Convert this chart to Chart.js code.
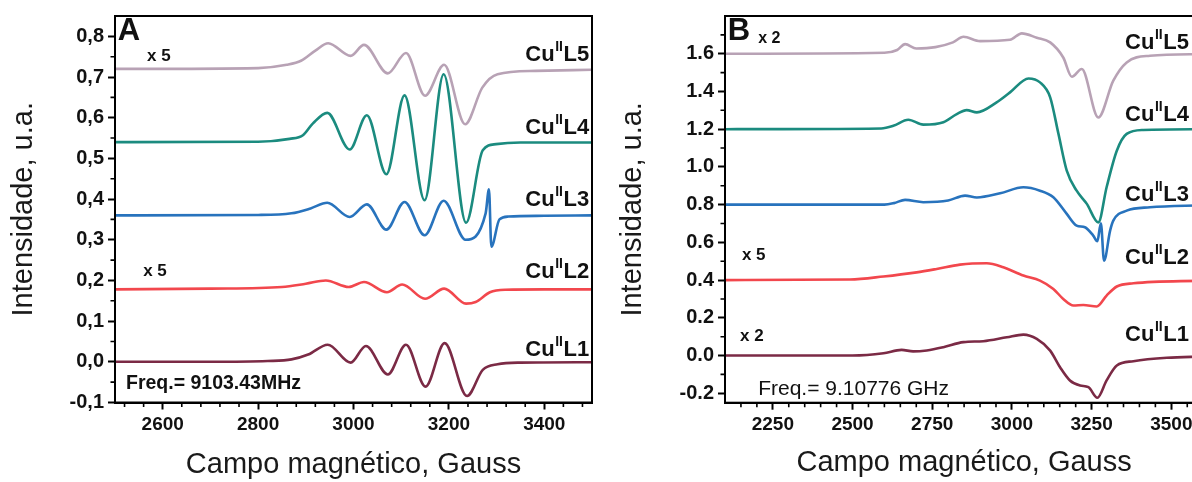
<!DOCTYPE html>
<html>
<head>
<meta charset="utf-8">
<script src="https://cdn.jsdelivr.net/npm/chart.js@4.4.1/dist/chart.umd.min.js"></script>
<style>
  html, body { margin: 0; padding: 0; background: #fff; }
  body { width: 1192px; height: 482px; overflow: hidden; position: relative; }
  canvas { position: absolute; top: 0; }
  #chartA { left: 0; }
  #chartB { left: 600px; }
</style>
</head>
<body>
<canvas id="chartA" width="600" height="482"></canvas>
<canvas id="chartB" width="620" height="482"></canvas>
<script>
// ---- Panel A (Freq. 9103.43 MHz) ----
const fieldA_L5 = [2500, 2800, 2860, 2890, 2920, 2947, 2994, 3022, 3072, 3110, 3150, 3190, 3234, 3270, 3302, 3382, 3500];
const valA_L5   = [0.720, 0.722, 0.730, 0.740, 0.765, 0.783, 0.752, 0.779, 0.709, 0.759, 0.654, 0.730, 0.584, 0.674, 0.707, 0.715, 0.718];

const fieldA_L4 = [2500, 2800, 2866, 2894, 2915, 2945, 2992, 3028, 3069, 3107, 3149, 3189, 3236, 3271, 3299, 3350, 3500];
const valA_L4   = [0.540, 0.541, 0.548, 0.557, 0.586, 0.612, 0.522, 0.606, 0.461, 0.655, 0.397, 0.707, 0.342, 0.520, 0.535, 0.539, 0.539];

const fieldA_L3 = [2500, 2800, 2870, 2910, 2945, 2992, 3028, 3069, 3107, 3149, 3189, 3235, 3277, 3284, 3289, 3306, 3325, 3400, 3500];
const valA_L3   = [0.360, 0.361, 0.365, 0.377, 0.391, 0.356, 0.387, 0.325, 0.393, 0.311, 0.396, 0.300, 0.365, 0.424, 0.283, 0.350, 0.357, 0.359, 0.360];

const fieldA_L2 = [2500, 2700, 2850, 2900, 2942, 2990, 3022, 3070, 3102, 3150, 3190, 3236, 3256, 3286, 3318, 3400, 3500];
const valA_L2   = [0.178, 0.180, 0.184, 0.192, 0.200, 0.184, 0.196, 0.171, 0.190, 0.155, 0.180, 0.143, 0.147, 0.171, 0.177, 0.178, 0.178];

const fieldA_L1 = [2500, 2700, 2820, 2870, 2905, 2946, 2994, 3026, 3072, 3110, 3151, 3191, 3238, 3271, 3302, 3350, 3500];
const valA_L1   = [0.000, 0.000, 0.002, 0.006, 0.018, 0.042, -0.002, 0.039, -0.031, 0.042, -0.061, 0.046, -0.084, -0.020, -0.006, -0.002, -0.001];

const xTicksA = [2600, 2800, 3000, 3200, 3400];
const yTicksA = [-0.1, 0, 0.1, 0.2, 0.3, 0.4, 0.5, 0.6, 0.7, 0.8];

// ---- Panel B (Freq. 9.10776 GHz) ----
const fieldB_L5 = [2100, 2600, 2640, 2665, 2700, 2760, 2815, 2848, 2900, 2994, 3031, 3078, 3120, 3161, 3188, 3219, 3271, 3318, 3360, 3433, 3600];
const valB_L5   = [1.600, 1.605, 1.620, 1.651, 1.628, 1.635, 1.660, 1.690, 1.667, 1.674, 1.708, 1.685, 1.660, 1.580, 1.478, 1.519, 1.262, 1.457, 1.554, 1.589, 1.598];

const fieldB_L4 = [2100, 2590, 2628, 2675, 2722, 2785, 2827, 2858, 2890, 2952, 2994, 3052, 3088, 3120, 3146, 3172, 3203, 3235, 3271, 3297, 3329, 3360, 3412, 3600];
const valB_L4   = [1.200, 1.204, 1.218, 1.250, 1.224, 1.237, 1.280, 1.301, 1.289, 1.342, 1.395, 1.469, 1.448, 1.369, 1.175, 0.980, 0.874, 0.804, 0.706, 0.892, 1.086, 1.175, 1.196, 1.200];

const fieldB_L3 = [2100, 2600, 2630, 2665, 2722, 2800, 2853, 2890, 2963, 3036, 3088, 3130, 3172, 3203, 3229, 3255, 3268, 3279, 3289, 3308, 3318, 3360, 3433, 3600];
const valB_L3   = [0.800, 0.800, 0.808, 0.825, 0.813, 0.822, 0.848, 0.838, 0.860, 0.892, 0.874, 0.839, 0.751, 0.689, 0.680, 0.636, 0.606, 0.701, 0.503, 0.662, 0.715, 0.768, 0.786, 0.797];

const fieldB_L2 = [2100, 2492, 2597, 2701, 2764, 2837, 2921, 2973, 3036, 3088, 3130, 3161, 3193, 3224, 3266, 3297, 3329, 3381, 3600];
const valB_L2   = [0.400, 0.403, 0.419, 0.441, 0.459, 0.482, 0.489, 0.468, 0.424, 0.397, 0.353, 0.300, 0.265, 0.268, 0.260, 0.318, 0.366, 0.383, 0.397];

const fieldB_L1 = [2100, 2500, 2597, 2654, 2690, 2733, 2785, 2848, 2910, 2984, 3036, 3078, 3120, 3151, 3182, 3214, 3240, 3268, 3297, 3329, 3381, 3486, 3600];
const valB_L1   = [0.000, 0.000, 0.012, 0.030, 0.022, 0.027, 0.044, 0.071, 0.076, 0.097, 0.111, 0.088, 0.026, -0.062, -0.132, -0.159, -0.168, -0.224, -0.132, -0.053, -0.030, -0.012, -0.005];

const xTicksB = [2250, 2500, 2750, 3000, 3250, 3500];
const yTicksB = [-0.2, 0, 0.2, 0.4, 0.6, 0.8, 1.0, 1.2, 1.4, 1.6];

const FONT = "'Liberation Sans', Arial, sans-serif";
const colors = { L5: '#b8a2b5', L4: '#1b8b7f', L3: '#2873bd', L2: '#f2474d', L1: '#7b2a45' };

function pts(xs, ys) { return xs.map((x, i) => ({ x: x, y: ys[i] })); }
function steps(a, b, s) { const out = []; for (let v = a; v <= b + 1e-9; v += s) out.push(+v.toFixed(4)); return out; }

function ds(xs, ys, color) {
  return {
    data: pts(xs, ys), borderColor: color, borderWidth: 2.6,
    pointRadius: 0, cubicInterpolationMode: 'monotone', fill: false
  };
}

// frame, minor ticks and the text notes
const deco = {
  id: 'deco',
  afterDraw(chart, args, o) {
    const { ctx, chartArea: a, scales } = chart;
    ctx.save();
    ctx.strokeStyle = '#000';
    ctx.lineWidth = 2;
    ctx.strokeRect(a.left, a.top, a.right - a.left, a.bottom - a.top);
    ctx.lineWidth = 1.6;
    ctx.beginPath();
    o.xMinor.forEach(v => {
      const p = scales.x.getPixelForValue(v);
      ctx.moveTo(p, a.bottom); ctx.lineTo(p, a.bottom + 4.5);
    });
    o.yMinor.forEach(v => {
      const p = scales.y.getPixelForValue(v);
      ctx.moveTo(a.left, p); ctx.lineTo(a.left - 4.5, p);
    });
    ctx.stroke();

    ctx.fillStyle = '#111';
    o.notes.forEach(n => {
      const x = scales.x.getPixelForValue(n.x), y = scales.y.getPixelForValue(n.y);
      if (n.cu) { drawCu(ctx, x, y, n.cu, n.align); return; }
      ctx.font = n.font;
      ctx.textAlign = 'left';
      ctx.textBaseline = 'middle';
      ctx.fillText(n.text, x, y);
    });
    ctx.restore();
  }
};

function drawCu(ctx, x, y, n, align) {
  const big = 'bold 22px ' + FONT, small = 'bold 14px ' + FONT;
  ctx.font = big;
  const w1 = ctx.measureText('Cu').width, w3 = ctx.measureText('L' + n).width;
  ctx.font = small;
  const w2 = ctx.measureText('II').width + 1;
  const left = align === 'right' ? x - (w1 + w2 + w3) : x;
  ctx.textAlign = 'left';
  ctx.textBaseline = 'alphabetic';
  ctx.font = big; ctx.fillText('Cu', left, y);
  ctx.font = small; ctx.fillText('II', left + w1 + 0.5, y - 10);
  ctx.font = big; ctx.fillText('L' + n, left + w1 + w2, y);
}

function makeChart(id, cfg) {
  return new Chart(document.getElementById(id), {
    type: 'line',
    data: { datasets: cfg.datasets },
    plugins: [deco],
    options: {
      responsive: false, animation: false, devicePixelRatio: 1,
      layout: { padding: cfg.padding },
      plugins: { legend: { display: false }, tooltip: { enabled: false }, deco: cfg.deco },
      scales: {
        x: {
          type: 'linear', min: cfg.xMin, max: cfg.xMax,
          afterFit: s => { s.height = cfg.xAxisHeight; },
          afterBuildTicks: s => { s.ticks = cfg.xTicks.map(v => ({ value: v })); },
          grid: { drawOnChartArea: false, drawTicks: true, tickLength: 7, tickWidth: 2, tickColor: '#000' },
          border: { display: true, color: '#000', width: 2 },
          ticks: { color: '#111', padding: 4, maxRotation: 0, autoSkip: false,
                   font: { family: FONT, size: 19, weight: 'bold' }, callback: v => String(v) },
          title: { display: true, text: 'Campo magnético, Gauss', color: '#1a1a1a',
                   font: { family: FONT, size: 29 }, padding: { top: 0, bottom: cfg.xTitlePad } }
        },
        y: {
          type: 'linear', min: cfg.yMin, max: cfg.yMax,
          afterFit: s => { s.width = cfg.yAxisWidth; },
          afterBuildTicks: s => { s.ticks = cfg.yTicks.map(v => ({ value: v })); },
          grid: { drawOnChartArea: false, drawTicks: true, tickLength: 7, tickWidth: 2, tickColor: '#000' },
          border: { display: true, color: '#000', width: 2 },
          ticks: { color: '#111', padding: 4, autoSkip: false,
                   font: { family: FONT, size: 20, weight: 'bold' }, callback: cfg.yFormat },
          title: { display: true, text: 'Intensidade, u.a.', color: '#1a1a1a',
                   font: { family: FONT, size: 29 }, padding: { top: cfg.yTitlePad, bottom: 0 } }
        }
      }
    }
  });
}

makeChart('chartA', {
  datasets: [
    ds(fieldA_L1, valA_L1, colors.L1), ds(fieldA_L2, valA_L2, colors.L2),
    ds(fieldA_L3, valA_L3, colors.L3), ds(fieldA_L4, valA_L4, colors.L4),
    ds(fieldA_L5, valA_L5, colors.L5)
  ],
  padding: { left: 0, top: 16, right: 8, bottom: 0 },
  xMin: 2500, xMax: 3500, yMin: -0.1, yMax: 0.85,
  xTicks: xTicksA, yTicks: yTicksA,
  xAxisHeight: 79.5, yAxisWidth: 115, xTitlePad: 0, yTitlePad: 7,
  yFormat: v => v.toFixed(1).replace('.', ','),
  deco: {
    xMinor: steps(2520, 3480, 40).filter(v => v % 200 !== 0),
    yMinor: steps(-0.05, 0.75, 0.1),
    notes: [
      { x: 2506, y: 0.811, text: 'A', font: 'bold 31px ' + FONT },
      { x: 2567, y: 0.751, text: 'x 5', font: 'bold 17px ' + FONT },
      { x: 2559, y: 0.223, text: 'x 5', font: 'bold 17px ' + FONT },
      { x: 2523, y: -0.054, text: 'Freq.= 9103.43MHz', font: 'bold 19.5px ' + FONT },
      { x: 3494, y: 0.739, cu: 5, align: 'right' },
      { x: 3494, y: 0.559, cu: 4, align: 'right' },
      { x: 3494, y: 0.382, cu: 3, align: 'right' },
      { x: 3494, y: 0.207, cu: 2, align: 'right' },
      { x: 3494, y: 0.014, cu: 1, align: 'right' }
    ]
  }
});

makeChart('chartB', {
  datasets: [
    ds(fieldB_L1, valB_L1, colors.L1), ds(fieldB_L2, valB_L2, colors.L2),
    ds(fieldB_L3, valB_L3, colors.L3), ds(fieldB_L4, valB_L4, colors.L4),
    ds(fieldB_L5, valB_L5, colors.L5)
  ],
  padding: { left: 0, top: 16, right: 16.8, bottom: 0 },
  xMin: 2100, xMax: 3600, yMin: -0.25, yMax: 1.8,
  xTicks: xTicksB, yTicks: yTicksB,
  xAxisHeight: 79.3, yAxisWidth: 125, xTitlePad: 2, yTitlePad: 16,
  yFormat: v => v.toFixed(1),
  deco: {
    xMinor: steps(2150, 3550, 50).filter(v => v % 250 !== 0),
    yMinor: steps(-0.1, 1.7, 0.2),
    notes: [
      { x: 2109, y: 1.72, text: 'B', font: 'bold 31px ' + FONT },
      { x: 2204, y: 1.68, text: 'x 2', font: 'bold 16px ' + FONT },
      { x: 2153, y: 0.529, text: 'x 5', font: 'bold 17px ' + FONT },
      { x: 2147, y: 0.10, text: 'x 2', font: 'bold 17px ' + FONT },
      { x: 2204, y: -0.18, text: 'Freq.= 9.10776 GHz', font: '21px ' + FONT },
      { x: 3355, y: 1.624, cu: 5, align: 'left' },
      { x: 3355, y: 1.243, cu: 4, align: 'left' },
      { x: 3355, y: 0.820, cu: 3, align: 'left' },
      { x: 3355, y: 0.487, cu: 2, align: 'left' },
      { x: 3355, y: 0.079, cu: 1, align: 'left' }
    ]
  }
});
</script>
</body>
</html>
